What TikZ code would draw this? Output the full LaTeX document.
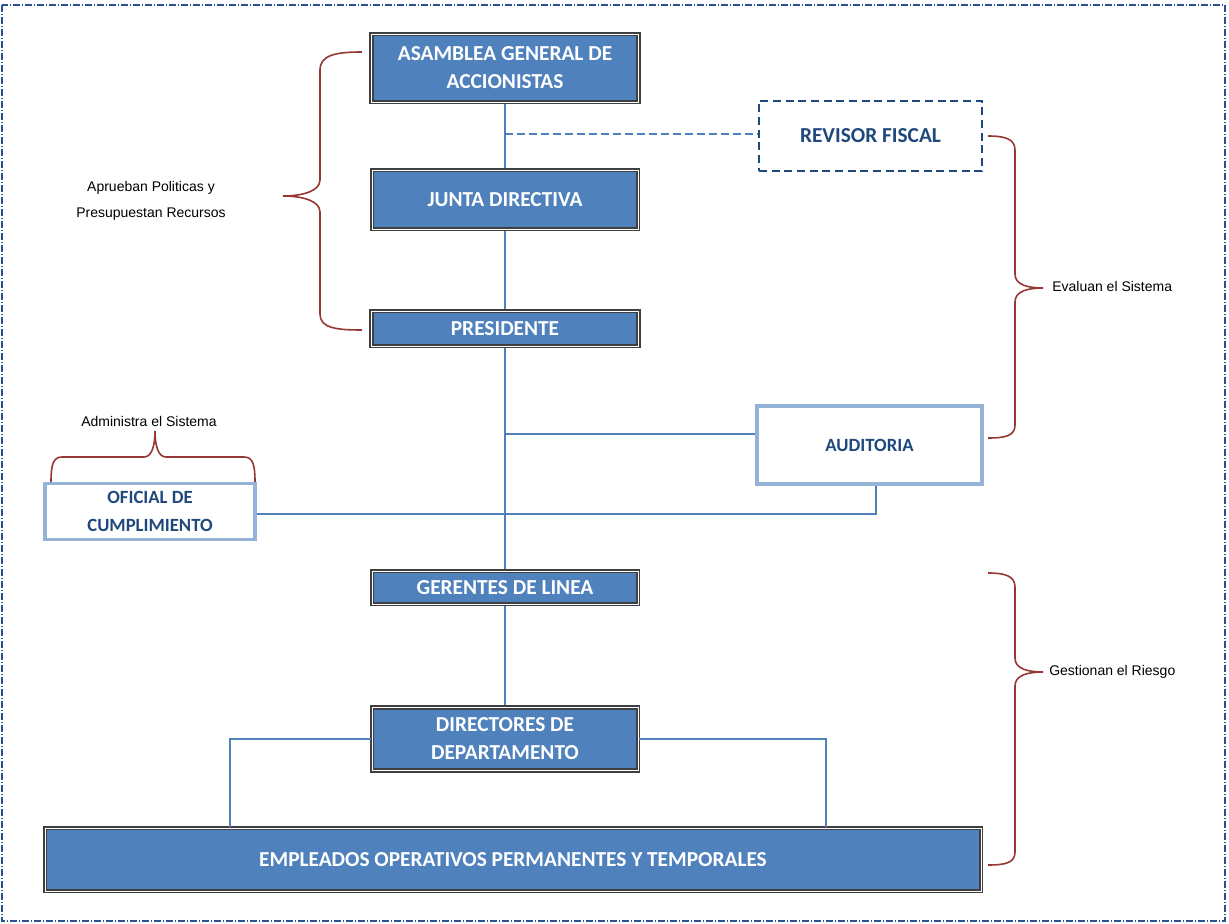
\documentclass[tikz,border=0pt]{standalone}
\usepackage{fontspec}
\setmainfont{Liberation Sans}
\newfontfamily\boxfont{Carlito}
\usetikzlibrary{calc,backgrounds}
\definecolor{boxblue}{HTML}{4F81BD}
\definecolor{boxedge}{HTML}{3F3F3F}
\definecolor{darkblue}{HTML}{1F497D}
\definecolor{lightedge}{HTML}{95B3D7}
\definecolor{bracered}{HTML}{953735}
\definecolor{linkblue}{HTML}{4F81BD}
\definecolor{framec}{HTML}{2A5190}
\tikzset{
  wh/.style 2 args={minimum width=#1*0.75pt, minimum height=#2*0.75pt},
  mainbox/.style={draw=boxedge, fill=boxblue, line width=1.4pt, double=white, double distance=0.6pt,
    text=white, font=\boxfont\bfseries\fontsize{16}{21}\selectfont, align=center, inner sep=0pt},
  lightbox/.style={draw=lightedge, fill=white, line width=2.3pt, text=darkblue,
    font=\boxfont\bfseries\fontsize{14}{21}\selectfont, align=center, inner sep=0pt},
  dashbox/.style={draw=darkblue, fill=white, line width=1.7pt, dash pattern=on 6pt off 3.5pt, text=darkblue,
    font=\boxfont\bfseries\fontsize{16}{21}\selectfont, align=center, inner sep=0pt},
  link/.style={draw=linkblue, line width=1.2pt},
  dashlink/.style={draw=linkblue, line width=0.9pt, dash pattern=on 6pt off 3pt},
  bracepath/.style={draw=bracered, line width=1.2pt},
  lbl/.style={font=\fontsize{10.5}{19.5}\selectfont, text=black, inner sep=0pt, align=center},
  framepath/.style={draw=framec, line width=1.3pt, dash pattern=on 5pt off 1.5pt on 1pt off 1.5pt}
}
\begin{document}
\begin{tikzpicture}[x=0.75pt, y=-0.75pt]
\useasboundingbox (0,0) rectangle (1229,924);
\draw[framepath] (2,5) rectangle (1225,921);

% boxes
\node[mainbox, wh={267}{68}] (asam) at (505,68) {ASAMBLEA GENERAL DE\\ACCIONISTAS};
\node[mainbox, wh={266}{59}] (junta) at (505,199.5) {JUNTA DIRECTIVA};
\node[mainbox, wh={267}{35}] (pres) at (505,328.5) {PRESIDENTE};
\node[mainbox, wh={266}{33}] (ger) at (505,587.5) {GERENTES DE LINEA};
\node[mainbox, wh={266}{63}] (dir) at (505,739) {DIRECTORES DE\\DEPARTAMENTO};
\node[mainbox, wh={936}{63}] (emp) at (513,859.5) {EMPLEADOS OPERATIVOS PERMANENTES Y TEMPORALES};
\node[dashbox, wh={223}{70}] (rev) at (870.5,136) {REVISOR FISCAL};
\node[lightbox, wh={225}{78}] (aud) at (869.5,445) {AUDITORIA};
\node[lightbox, wh={210}{56}] (ofi) at (150,511.5) {OFICIAL DE\\CUMPLIMIENTO};

% connectors
\coordinate (trev) at (505,134);
\coordinate (taud) at (505,434);
\coordinate (tofi) at (150,514);
\coordinate (dleft) at (230,739);
\coordinate (dright) at (826,739);
\begin{pgfonlayer}{background}
\draw[link] (asam.south) -- (junta.north);
\draw[link] (junta.south) -- (pres.north);
\draw[link] (pres.south) -- (ger.north);
\draw[link] (ger.south) -- (dir.north);
\end{pgfonlayer}
\draw[dashlink] (trev) -- (trev -| rev.west);
\draw[link] (taud) -- (taud -| aud.west);
\draw[link] (tofi -| ofi.east) -| ($(aud.south)+(6.5,0)$);
\draw[link] (dir.west) -- (dleft) -- (dleft |- emp.north);
\draw[link] (dir.east) -- (dright) -- (dright |- emp.north);

% braces
\draw[bracepath] (362,52) .. controls (336,52) and (320,55) .. (320,70) -- (320,180)
  .. controls (320,192) and (300,196) .. (283,196) .. controls (300,196) and (320,200) .. (320,212)
  -- (320,314) .. controls (320,328) and (336,330) .. (362,330);
\draw[bracepath] (988,136) .. controls (1005,136) and (1015,139) .. (1015,150) -- (1015,274)
  .. controls (1015,285) and (1028,288) .. (1043,288) .. controls (1028,288) and (1015,291) .. (1015,302)
  -- (1015,425) .. controls (1015,436) and (1005,438) .. (988,438);
\draw[bracepath] (988,573) .. controls (1005,573) and (1015,576) .. (1015,587) -- (1015,658)
  .. controls (1015,669) and (1028,672) .. (1043,672) .. controls (1028,672) and (1015,675) .. (1015,686)
  -- (1015,852) .. controls (1015,863) and (1005,865) .. (988,865);
\draw[bracepath] (51,482) .. controls (51,465) and (53,457) .. (62,457) -- (144,457)
  .. controls (152,457) and (155,445) .. (155,431) .. controls (155,445) and (158,457) .. (166,457)
  -- (244,457) .. controls (253,457) and (255,465) .. (255,482);

% labels
\node[lbl] (aprueban) at (151,201) {Aprueban Politicas y\\Presupuestan Recursos};
\node[lbl, anchor=west] (evaluan) at (1052,286) {Evaluan el Sistema};
\node[lbl, anchor=west] (gestionan) at (1049,672) {Gestionan el Riesgo};
\node[lbl] (administra) at (149,421) {Administra el Sistema};
\end{tikzpicture}
\end{document}
